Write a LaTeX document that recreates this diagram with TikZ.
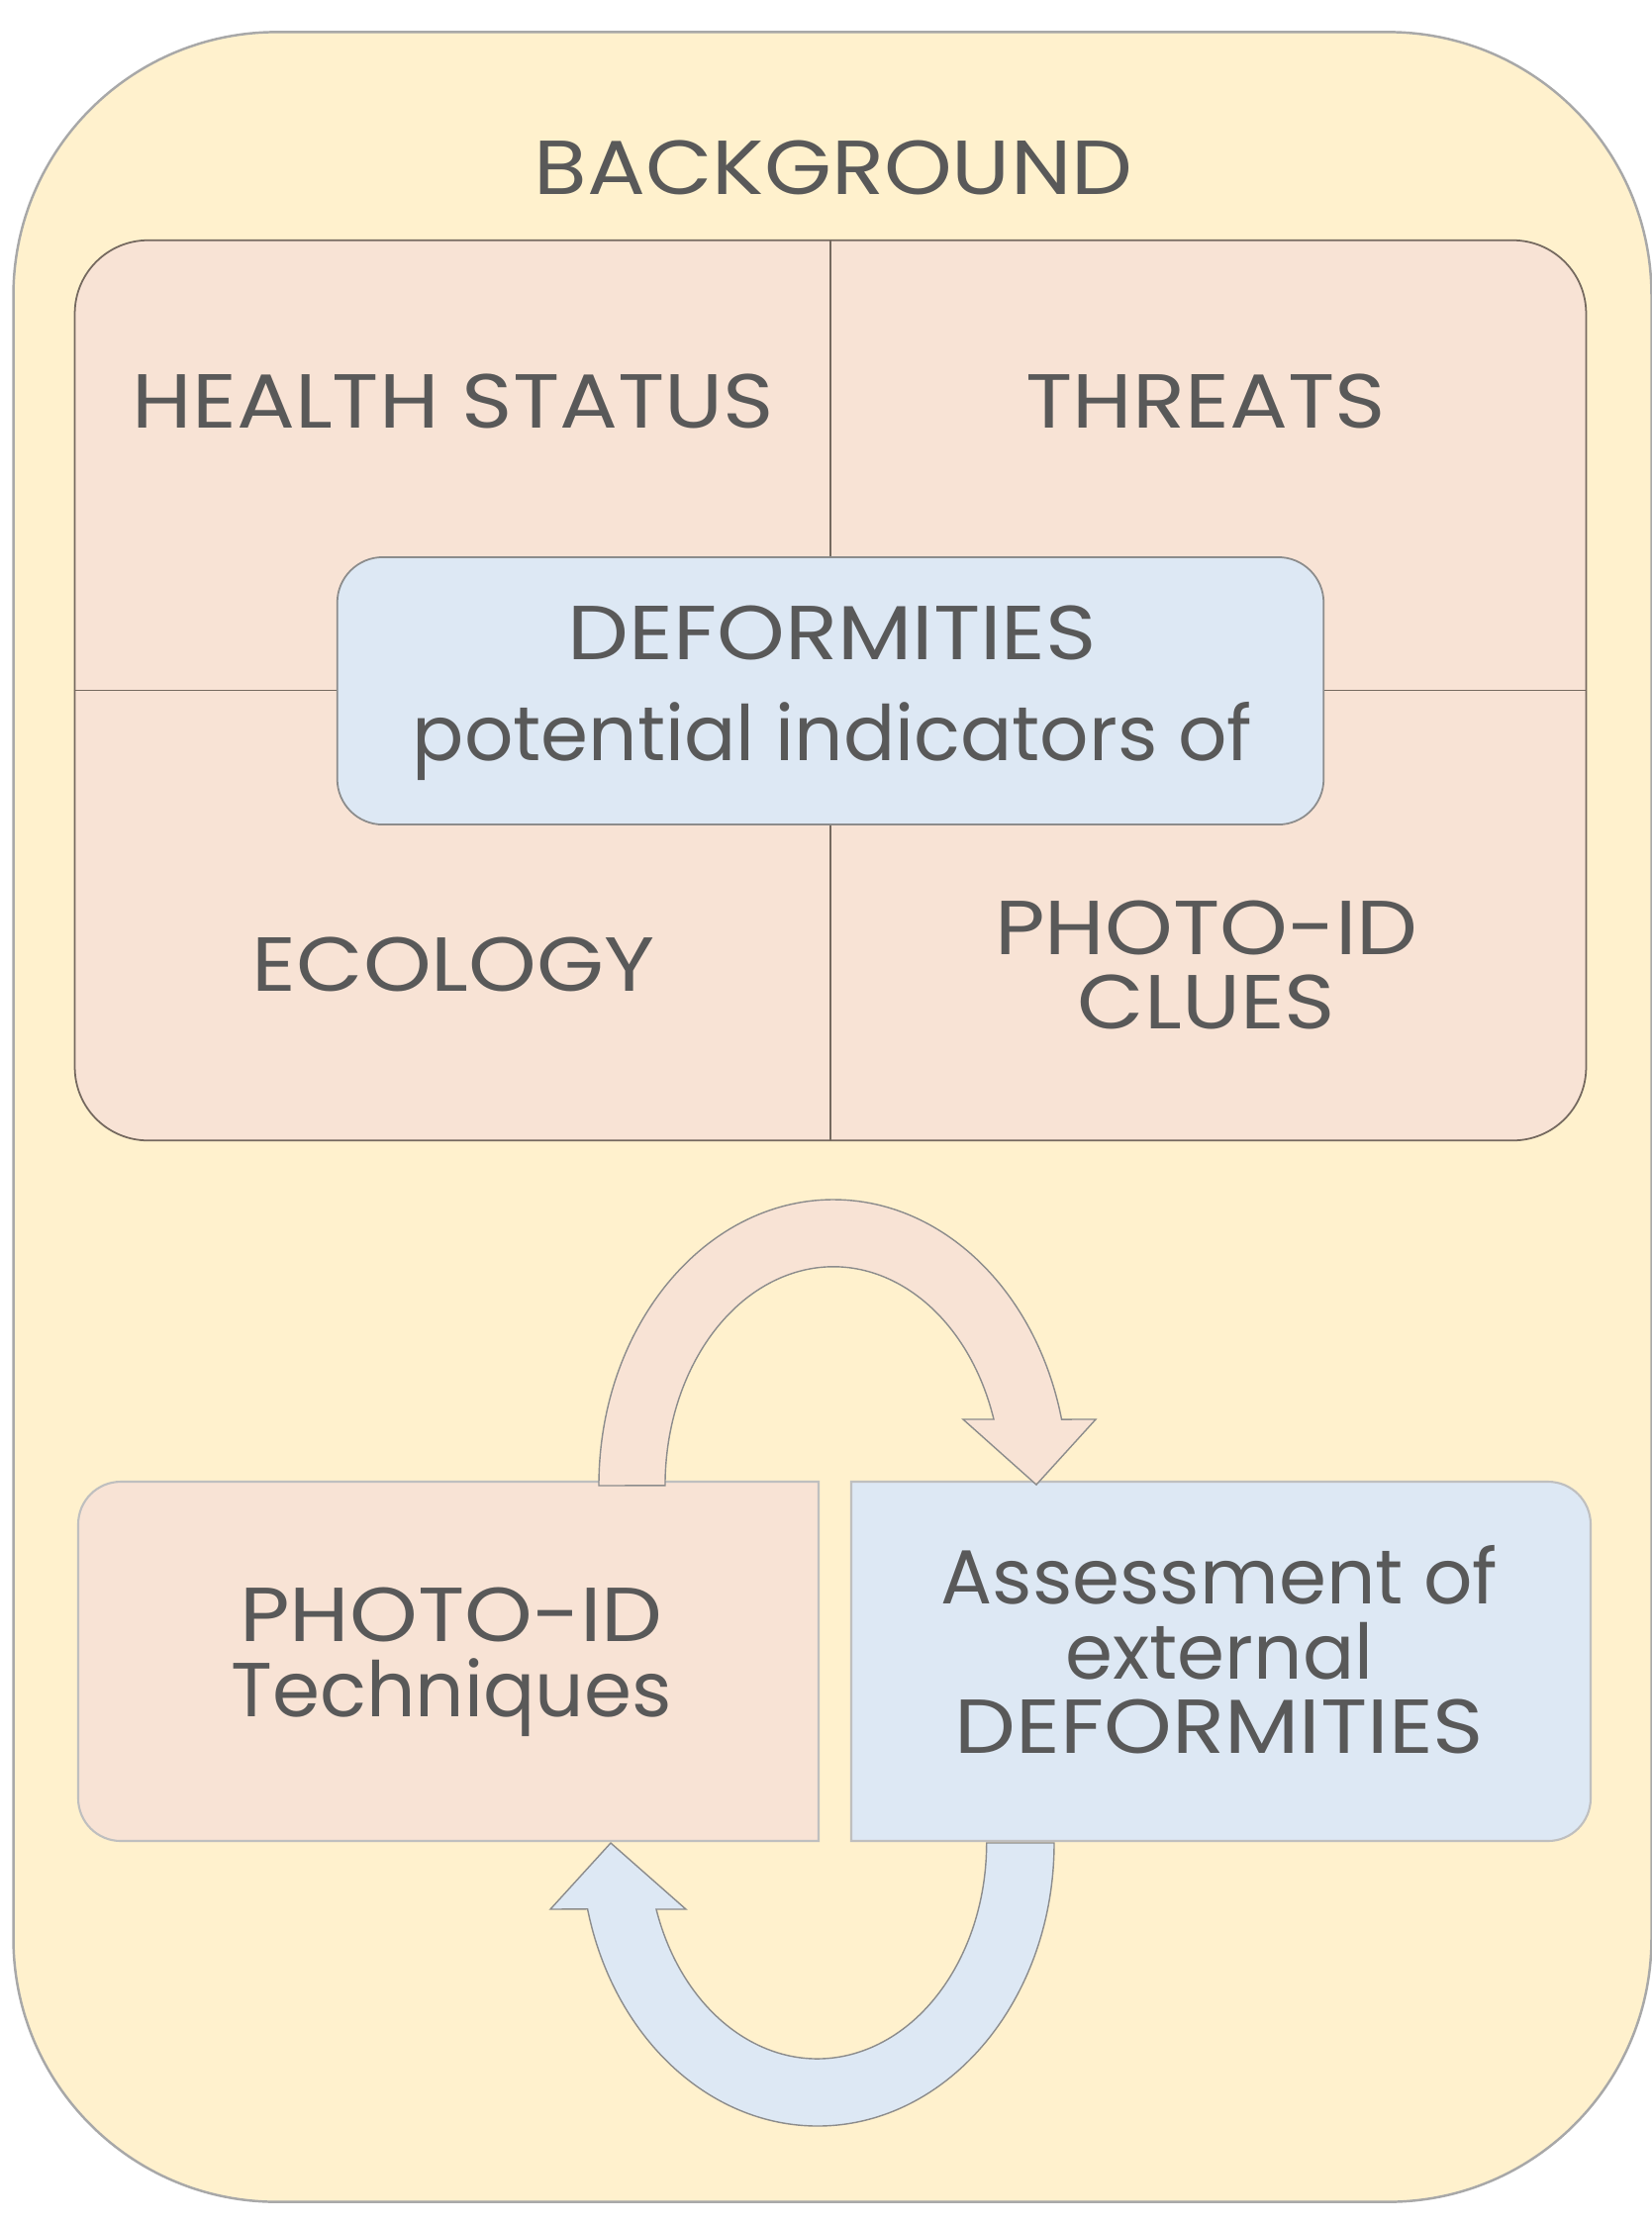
\documentclass[tikz,border=0pt]{standalone}
\usepackage{fontspec}
\setmainfont{Poppins}
\newfontfamily\capsfont[FakeStretch=1.13]{Poppins}
\definecolor{sand}{HTML}{FFF1CD}
\definecolor{peach}{HTML}{F8E3D5}
\definecolor{sky}{HTML}{DDE8F4}
\definecolor{ink}{HTML}{595959}
\definecolor{rim}{HTML}{A8A8A8}
\definecolor{seam}{HTML}{75695F}
\begin{document}
\begin{tikzpicture}[x=0.01cm, y=-0.01cm]
  \tikzstyle{label}=[text=ink, align=center, inner sep=0pt, font=\fontsize{22}{21.5}\selectfont]
  \tikzstyle{caps}=[label, font=\fontsize{22}{21.5}\selectfont\capsfont]
  \tikzstyle{arrowband}=[draw=black!45, line width=0.4pt]

  \useasboundingbox (0,0) rectangle (1669,2247);

  \node[draw=rim, line width=0.7pt, fill=sand, rounded corners=26.6mm,
        minimum width=165.4mm, minimum height=219.1mm] (bg) at (841,1128.5) {};
  \node[caps] (title) at (842,169) {BACKGROUND};

  % four fields round the centre box
  \node[draw=seam, line width=0.5pt, fill=peach, rounded corners=7.4mm,
        minimum width=152.6mm, minimum height=90.9mm] (panel) at (839,697.5) {};
  \draw[seam, line width=0.5pt] (panel.north) -- (panel.south);
  \draw[seam, line width=0.5pt] (panel.west) -- (panel.east);

  \node[caps] (health)  at (458,405)  {HEALTH STATUS};
  \node[caps] (threats) at (1218,405) {THREATS};
  \node[caps] (ecology) at (458,974)  {ECOLOGY};
  \node[caps] (clues)   at (1219,975) {PHOTO-ID\\CLUES};

  \node[draw=black!45, line width=0.5pt, fill=sky, rounded corners=4.6mm,
        minimum width=99.6mm, minimum height=27mm] (core) at (839,698) {};
  \node[label] (deform) at (841,700) {{\capsfont DEFORMITIES}\\[2.6mm]potential indicators of};

  % lower boxes
  \path[draw=black!25, line width=0.6pt, fill=peach]
    (453,1497) [rounded corners=4.3mm] -- (79,1497) -- (79,1860) -- (453,1860)
    [sharp corners] -- (827,1860) -- (827,1497) -- cycle;
  \path[draw=black!25, line width=0.6pt, fill=sky]
    (1233,1497) [rounded corners=4.3mm] -- (1607,1497) -- (1607,1860) -- (1233,1860)
    [sharp corners] -- (860,1860) -- (860,1497) -- cycle;

  \node[label] (tech)   at (456,1679) {{\capsfont PHOTO-ID}\\Techniques};
  \node[label] (assess) at (1232,1667) {Assessment of\\external\\{\capsfont DEFORMITIES}};

  % curved arrows
  \path[arrowband, fill=peach]
    (605,1501) arc[start angle=180, end angle=346.6, x radius=237, y radius=289]
    -- (1107,1434) -- (1047,1500) -- (973,1434)
    -- (1004,1434) arc[start angle=342.4, end angle=180, x radius=170, y radius=221]
    -- cycle;
  \path[arrowband, fill=sky]
    (1065,1862) arc[start angle=0, end angle=166.5, x radius=239, y radius=286]
    -- (556,1929) -- (617,1862) -- (693,1929)
    -- (663,1929) arc[start angle=162.1, end angle=0, x radius=171, y radius=218]
    -- cycle;

\end{tikzpicture}
\end{document}
